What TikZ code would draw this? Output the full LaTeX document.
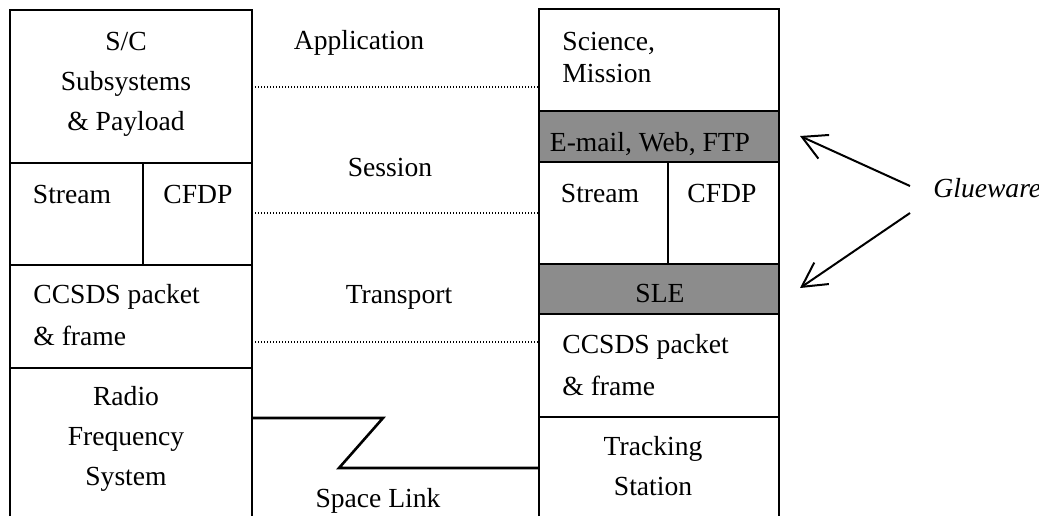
\documentclass[tikz,border=0pt]{standalone}
\usepackage{fontspec}
\setmainfont{Liberation Serif}
\usetikzlibrary{arrows.meta}
\tikzset{
  stk line/.style={black,line width=1.3pt},
  stk glue/.style={stk line,fill=black!45},
  stk txt/.style={inner sep=0pt,anchor=base,align=center,
    font=\fontsize{13.8}{20}\selectfont},
  stk ltxt/.style={stk txt,anchor=base west,align=left},
  peer link/.style={line width=1.2pt,dash pattern=on 0.7pt off 0.8pt},
  glue arrow/.style={-{Straight Barb[length=12pt,width=13pt]},line width=1pt}
}

\begin{document}
\begin{tikzpicture}[x=0.5pt,y=-0.5pt]
  \useasboundingbox (0,0) rectangle (1039,516);

  % spacecraft side
  \draw[stk line] (10,516)--(10,10)--(252,10)--(252,516);
  \draw[stk line] (10,163)--(252,163) (10,265)--(252,265) (10,368)--(252,368)
    (143,163)--(143,265);
  \node[stk txt] (scsub) at (126,130) {S/C\\Subsystems\\\& Payload};
  \node[stk txt] (lstream) at (72,203) {Stream};
  \node[stk txt] (lcfdp) at (198,203) {CFDP};
  \node[stk ltxt,font=\fontsize{13.8}{21}\selectfont] (lccsds) at (33,345) {CCSDS packet\\\& frame};
  \node[stk txt] (rfsys) at (126,485) {Radio\\Frequency\\System};

  % ground side
  \draw[stk glue] (539,111) rectangle (779,162);
  \draw[stk glue] (539,264) rectangle (779,314);
  \draw[stk line] (539,516)--(539,9)--(779,9)--(779,516);
  \draw[stk line] (668,162)--(668,264) (539,417)--(779,417);
  \node[stk ltxt,font=\fontsize{13.8}{16}\selectfont] (science) at (562,82) {Science,\\Mission};
  \node[stk txt] (email) at (650,151) {E-mail, Web, FTP};
  \node[stk txt] (rstream) at (600,202) {Stream};
  \node[stk txt] (rcfdp) at (722,202) {CFDP};
  \node[stk txt] (sle) at (660,302) {SLE};
  \node[stk ltxt,font=\fontsize{13.8}{21}\selectfont] (rccsds) at (562,395) {CCSDS packet\\\& frame};
  \node[stk txt] (tracking) at (653,495) {Tracking\\Station};

  % peer layers
  \coordinate (lapp) at (252,87);  \coordinate (rapp) at (539,87);
  \coordinate (lses) at (252,213); \coordinate (rses) at (539,213);
  \coordinate (ltrn) at (252,342); \coordinate (rtrn) at (539,342);
  \draw[peer link] (lapp)--(rapp);
  \draw[peer link] (lses)--(rses);
  \draw[peer link] (ltrn)--(rtrn);
  \node[stk txt] (application) at (359,49) {Application};
  \node[stk txt] (session) at (390,176) {Session};
  \node[stk txt] (transport) at (399,303) {Transport};

  % space link
  \coordinate (lrf) at (252,418);
  \coordinate (rts) at (539,468);
  \draw[stk line] (lrf)--(383,418)--(339,468)--(rts);
  \node[stk txt] (spacelink) at (378,507) {Space Link};

  % glueware
  \node[stk ltxt,font=\fontsize{13.8}{20}\selectfont\itshape] (glue) at (933,197) {Glueware};
  \coordinate (gtop) at (910,186);
  \coordinate (gbot) at (910,213);
  \coordinate (emailtip) at (800,136);
  \coordinate (sletip) at (800,288);
  \draw[glue arrow] (gtop)--(emailtip);
  \draw[glue arrow] (gbot)--(sletip);
\end{tikzpicture}
\end{document}
